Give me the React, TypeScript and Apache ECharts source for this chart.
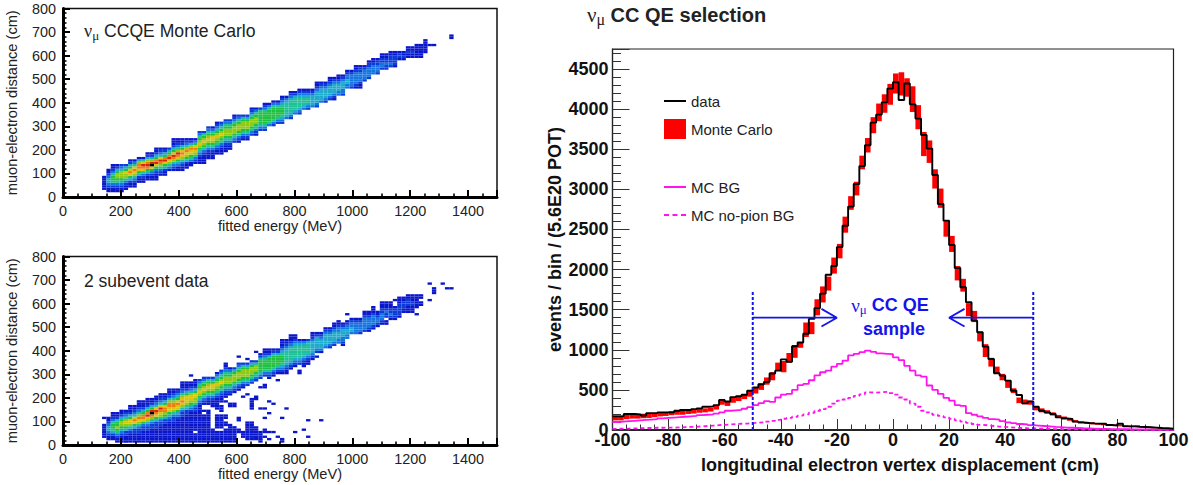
import React, { useEffect, useRef } from "react";
import * as echarts from "echarts";

// ---- Left panels: bins are 15 MeV x 10 cm. A run is [energy bin, first distance bin, colour levels upward].
const ENERGY_BIN = 15;
const DISTANCE_BIN = 10;
const levelColors = ["", "#0a16ca", "#0c3cd8", "#1474e0", "#1eaacc", "#1ec098", "#20c040", "#90c814", "#dcc40c", "#ec7c10", "#d82410", "#000000"];

const monteCarloRuns: [number, number, string][] = [
  [9, 3, "111111"], [10, 2, "1123443211"], [11, 2, "112356653211"], [12, 2, "112356776421"],
  [13, 2, "112346777532"], [14, 3, "11235778642"], [15, 4, "112468986421"], [16, 4, "112357898531"],
  [17, 6, "11246899741"], [18, 6, "1123589a851"], [19, 7, "112469a97421"], [20, 7, "112368ba7421"],
  [21, 7, "1112368a964211"], [22, 9, "123579a85321"], [23, 9, "112468a96421"], [24, 11, "13578a9642"],
  [25, 11, "123579a8642111"], [26, 11, "1134689a753211"], [27, 11, "11235789864211"], [28, 12, "1124678975321"],
  [29, 13, "113568897421"], [30, 14, "12357898631"], [31, 14, "11123567876532"], [32, 14, "11112356787652"],
  [33, 16, "11123567876532"], [34, 16, "11123567886531"], [35, 18, "11235678765321"], [36, 18, "11123567876532"],
  [37, 19, "11123567776532"], [38, 20, "1123567776532"], [39, 23, "235677765321"], [40, 23, "123567776532"],
  [41, 24, "12356777652"], [42, 24, "12356777642"], [43, 26, "235677765321"], [44, 26, "123567776531"],
  [45, 28, "2356666652"], [46, 28, "235666665321"], [47, 30, "3566666531"], [48, 30, "23566666531"],
  [49, 31, "2356666531"], [50, 31, "234566654321"], [51, 33, "3455555431"], [52, 33, "234555554321"],
  [53, 35, "3455555421"], [54, 35, "23455554321"], [55, 37, "345554321"], [56, 37, "234554321"],
  [57, 38, "34444321"], [58, 38, "23444443211"], [59, 40, "344444321"], [60, 40, "234444321"],
  [61, 41, "2344443211"], [62, 41, "1234444321"], [63, 43, "334443211"], [64, 43, "233444321"],
  [65, 46, "33443321"], [66, 46, "23333321"], [67, 46, "1233333211"], [68, 46, "1123333221"],
  [69, 49, "2333321"], [70, 50, "23333221"], [71, 52, "3333211"], [72, 52, "2333221"],
  [73, 54, "2332211"], [74, 54, "2232211"], [75, 55, "2322211"], [76, 55, "1222211"],
  [77, 58, "1221"], [78, 58, "1211"], [79, 59, "11211"], [80, 59, "11211"],
  [81, 59, "111111"], [82, 59, "111111"], [83, 61, "111111"], [84, 64, "1"], [85, 64, "1"], [89, 67, "11"],
];

const subeventRuns: [number, number, string][] = [
  [9, 3, "111111"], [9, 11, "1"], [10, 2, "1123443211"], [11, 2, "112456653211"], [12, 1, "1123567664211"],
  [13, 1, "11123467764211"], [14, 1, "11122467875321"], [15, 1, "1111235788642111"], [16, 1, "1111224689853211"],
  [17, 1, "111122357897532111"], [18, 1, "111112236899642111"], [19, 1, "11111223478a9642111"],
  [20, 1, "111111223579ba64211"], [21, 1, "1111112224689a853211"], [22, 1, "11111112235789a853211"],
  [23, 1, "111111112246799864211"], [24, 1, "11111111123468899742111"], [25, 1, "11111111122357899753211"],
  [26, 1, "11111111112346889864321"], [27, 1, "11111111111223578987532111"], [28, 1, "11111111111122457888642111"],
  [29, 1, "11111111111112346788753211"], [29, 29, "1"], [30, 1, "1111"], [30, 6, "1111111122357788642111"],
  [31, 1, "111111111111111123567876532"], [32, 1, "111111111111"], [32, 14, "1"], [32, 17, "123567876532"],
  [33, 1, "11111111111111"], [33, 17, "112356787652"], [34, 1, "111111"], [34, 16, "1112356788642"],
  [35, 1, "11111"], [35, 7, "111111"], [35, 15, "1111123567876531"], [36, 1, "11111"], [36, 7, "111111"],
  [36, 14, "111"], [36, 18, "11123567876532"], [37, 1, "111111"], [37, 8, "11"], [37, 11, "11"], [37, 18, "1"],
  [37, 20, "112356777653211"], [38, 1, "11111111"], [38, 16, "11"], [38, 21, "123567776531"], [39, 1, "1111111"],
  [39, 16, "11"], [39, 22, "12356777642"], [40, 5, "11"], [40, 10, "11"], [40, 23, "123567776532"], [40, 37, "1"],
  [41, 3, "111"], [41, 20, "1"], [41, 24, "12356777652"], [42, 2, "11111111"], [42, 21, "1"], [42, 25, "2356777642"],
  [42, 36, "1"], [43, 2, "11111111"], [43, 15, "11111"], [43, 26, "2356777642"], [44, 2, "111111"], [44, 19, "11"],
  [44, 27, "235677752"], [44, 39, "1"], [45, 1, "11111"], [45, 15, "1"], [45, 24, "1"], [45, 28, "23566666421"],
  [46, 3, "1"], [46, 5, "11"], [46, 11, "1"], [46, 15, "1"], [46, 24, "11"], [46, 29, "235666653211"],
  [47, 2, "1"], [47, 5, "1"], [47, 13, "1"], [47, 18, "1"], [47, 28, "1235666664211"], [48, 5, "1"], [48, 17, "1"],
  [48, 29, "123566666421"], [49, 3, "1"], [49, 27, "1"], [49, 30, "12356666421"], [50, 1, "11"], [50, 11, "1"],
  [50, 30, "123456665432111"], [51, 15, "1"], [51, 30, "112345555543211"], [52, 32, "123455555432111"],
  [53, 5, "1"], [53, 33, "12345555543211"], [54, 30, "11"], [54, 34, "23455555431"], [55, 6, "1"],
  [55, 33, "112345555431"], [56, 3, "1"], [56, 10, "1"], [56, 34, "11234555542"], [57, 36, "123444443211"],
  [58, 37, "1"], [58, 39, "234444421"], [59, 10, "1"], [59, 39, "134444321"], [60, 41, "344444321"],
  [61, 41, "234444321"], [62, 42, "2344443211"], [63, 43, "3344433211"], [64, 42, "1233444321"],
  [65, 45, "33443321"], [65, 55, "1"], [66, 47, "3443321"], [67, 47, "3333321"], [68, 47, "2333321"],
  [69, 48, "233333211"], [70, 48, "123333211"], [71, 49, "1233332111"], [72, 50, "1233211"],
  [73, 51, "1233322111"], [74, 51, "11"], [74, 54, "2232111"], [75, 53, "12322111"], [76, 53, "122221"],
  [76, 61, "1"], [77, 54, "122222111"], [78, 56, "1122211"], [79, 56, "11122211"], [80, 56, "11122111"],
  [81, 55, "1"], [81, 58, "111111"], [82, 59, "11"], [82, 62, "11"], [84, 61, "1"], [84, 68, "1"],
  [85, 64, "111"], [87, 68, "1"], [88, 66, "1"], [89, 66, "1"],
];

// ---- Right panel: one value per 2 cm bin, left edge -100 to 98.
const binLeftEdges = Array.from({ length: 100 }, (_, i) => -100 + i * 2);
const dataCounts = [
  170, 170, 200, 200, 195, 180, 210, 210, 220, 220,
  220, 240, 250, 250, 260, 270, 290, 295, 310, 375,
  355, 410, 420, 440, 490, 530, 570, 600, 705, 740,
  880, 850, 1045, 1090, 1200, 1385, 1520, 1700, 1935, 2045,
  2280, 2547, 2785, 3067, 3290, 3550, 3832, 3932, 4085, 4256,
  4335, 4115, 4320, 4060, 3882, 3678, 3508, 3180, 2818, 2610,
  2307, 2020, 1780, 1592, 1363, 1218, 1039, 885, 707, 678,
  615, 490, 436, 332, 357, 290, 240, 220, 200, 158,
  145, 137, 104, 95, 87, 83, 80, 78, 62, 55,
  78, 45, 45, 40, 38, 35, 30, 25, 22, 15,
];
const monteCarloCounts = [
  150, 150, 165, 170, 170, 175, 175, 185, 195, 200,
  210, 215, 215, 225, 230, 240, 245, 255, 280, 345,
  330, 370, 390, 415, 450, 490, 540, 610, 670, 790,
  790, 900, 980, 1060, 1250, 1270, 1530, 1690, 1825, 2050,
  2230, 2560, 2830, 3010, 3335, 3550, 3800, 3960, 4070, 4185,
  4320, 4315, 4270, 4125, 3900, 3565, 3470, 3130, 2890, 2510,
  2320, 1955, 1805, 1500, 1415, 1165, 990, 845, 750, 660,
  570, 490, 370, 350, 340, 270, 245, 225, 200, 170,
  150, 130, 110, 95, 88, 82, 75, 68, 60, 60,
  55, 50, 45, 48, 40, 35, 30, 22, 18, 12,
];
const monteCarloErrors = [
  30, 30, 30, 28, 28, 28, 25, 25, 25, 25,
  25, 25, 25, 25, 25, 25, 25, 25, 25, 30,
  30, 30, 30, 30, 35, 35, 40, 45, 50, 50,
  70, 60, 80, 35, 90, 75, 100, 100, 87, 100,
  90, 100, 85, 85, 85, 90, 100, 110, 115, 130,
  125, 145, 115, 160, 150, 150, 140, 120, 120, 100,
  100, 90, 80, 80, 70, 60, 80, 55, 40, 40,
  45, 30, 35, 30, 25, 25, 25, 22, 20, 18,
  18, 15, 14, 13, 12, 12, 10, 10, 10, 10,
  10, 10, 10, 10, 8, 8, 8, 6, 6, 6,
];
const backgroundCounts = [
  100, 105, 110, 115, 120, 125, 130, 135, 145, 150,
  155, 160, 165, 170, 175, 185, 190, 195, 205, 220,
  240, 245, 250, 265, 285, 310, 335, 360, 350, 405,
  440, 450, 500, 560, 575, 620, 680, 720, 740, 790,
  825, 865, 930, 950, 970, 990, 975, 955, 950, 945,
  905, 870, 800, 740, 680, 665, 555, 500, 450, 400,
  365, 310, 300, 210, 190, 170, 150, 135, 130, 110,
  95, 85, 75, 70, 60, 55, 50, 45, 38, 35,
  30, 28, 25, 22, 20, 18, 15, 14, 12, 11,
  10, 10, 8, 8, 7, 6, 6, 5, 4, 3,
];
const noPionCounts = [
  15, 18, 18, 20, 22, 25, 25, 28, 28, 30,
  30, 32, 35, 38, 40, 45, 50, 55, 60, 65,
  70, 75, 78, 80, 85, 90, 95, 105, 115, 125,
  140, 150, 165, 180, 195, 215, 240, 260, 290, 330,
  365, 380, 400, 425, 445, 470, 465, 470, 475, 460,
  440, 405, 380, 330, 290, 240, 220, 190, 175, 158,
  140, 120, 105, 90, 75, 65, 58, 50, 42, 38,
  32, 28, 25, 22, 20, 18, 16, 14, 12, 10,
  9, 8, 7, 6, 6, 5, 5, 4, 4, 3,
  3, 3, 2, 2, 2, 2, 1, 1, 1, 1,
];
const lowerCutLine = [[-50, 0], [-50, 1720]];
const upperCutLine = [[50, 0], [50, 1720]];
const lowerArrow = [[-50, 1400], [-20, 1400], [-25.5, 1510], [-20, 1400], [-25.5, 1290]];
const upperArrow = [[50, 1400], [20, 1400], [25.5, 1510], [20, 1400], [25.5, 1290]];
const frameAnchor = [[0, 0], [1500, 800]];

const SERIF = "'Liberation Serif'";
const SANS = "'Liberation Sans'";
const INK = "#111";
const BLUE = "#1414ee";
const MAGENTA = "#ff14ee";
const LINE_ICON = "path://M0 9H22V11H0Z";
const DASH_ICON = "path://M0 9H5V11H0Z M8.5 9H13.5V11H8.5Z M17 9H22V11H17Z";

function expandRuns(runs: [number, number, string][]) {
  const cells: number[][] = [];
  for (const [bin, start, levels] of runs) {
    levels.split("").forEach((c, i) => {
      const row = start + i;
      cells.push([bin * ENERGY_BIN, (bin + 1) * ENERGY_BIN, row * DISTANCE_BIN, (row + 1) * DISTANCE_BIN, parseInt(c, 16)]);
    });
  }
  return cells;
}
const renderCell = (_: any, api: any) => {
  const a = api.coord([api.value(0), api.value(3)]);
  const b = api.coord([api.value(1), api.value(2)]);
  return {
    type: "rect",
    shape: { x: a[0], y: a[1], width: b[0] - a[0], height: b[1] - a[1] },
    style: { fill: levelColors[api.value(4)] },
  };
};
const stepLine = (counts: number[]) => [
  ...binLeftEdges.map((x, i) => [x, counts[i]]),
  [100, counts[counts.length - 1]],
];
const plain = (v: number) => String(v);

function leftValueAxis(gridIndex: number, max: number, interval: number, name: string, gap: number, showMax: boolean) {
  return {
    type: "value", gridIndex, min: 0, max, interval,
    name, nameLocation: "middle", nameGap: gap,
    nameTextStyle: { fontFamily: SANS, fontSize: 14.6, color: "#222" },
    axisLine: { show: false, onZero: false },
    axisTick: { show: false },
    axisLabel: { fontFamily: SANS, fontSize: 14.4, color: "#222", margin: 7, showMinLabel: true, showMaxLabel: showMax, formatter: plain },
    splitLine: { show: false },
  };
}
function frameAxis(gridIndex: number, max: number, interval: number, split: number) {
  return {
    type: "value", gridIndex, min: 0, max, interval,
    axisLine: { show: true, onZero: false, lineStyle: { color: "#000", width: 3 } },
    axisTick: { show: true, inside: true, length: 7, lineStyle: { color: "#000", width: 2 } },
    minorTick: { show: true, splitNumber: split, length: 3.5, lineStyle: { color: "#000", width: 1.6 } },
    axisLabel: { show: false },
    splitLine: { show: false },
  };
}

const option: any = {
  animation: false,
  backgroundColor: "#fff",
  title: [
    {
      left: 84, top: 20, padding: 0,
      text: "{g|ν}{m|μ}{t| CCQE Monte Carlo}",
      textStyle: { rich: {
        g: { fontFamily: SERIF, fontSize: 18, fontWeight: "normal", color: "#222", lineHeight: 22 },
        m: { fontFamily: SERIF, fontSize: 13, fontWeight: "normal", color: "#222", lineHeight: 13, verticalAlign: "bottom" },
        t: { fontFamily: SANS, fontSize: 17.6, fontWeight: "normal", color: "#222", lineHeight: 22 },
      } },
    },
    { left: 84, top: 272, padding: 0, text: "2 subevent data", textStyle: { fontFamily: SANS, fontSize: 17.5, fontWeight: "normal", color: "#222" } },
    {
      left: 587, top: 3, padding: 0,
      text: "{g|ν}{m|μ}{t| CC QE selection}",
      textStyle: { rich: {
        g: { fontFamily: SERIF, fontSize: 21, fontWeight: "normal", color: "#222", lineHeight: 24 },
        m: { fontFamily: SERIF, fontSize: 16, fontWeight: "normal", color: "#222", lineHeight: 16, verticalAlign: "bottom" },
        t: { fontFamily: SANS, fontSize: 20, fontWeight: "bold", color: "#222", lineHeight: 24 },
      } },
    },
    {
      left: 890, top: 294, padding: 0, textAlign: "center",
      text: "{g|ν}{m|μ}{t| CC QE}",
      textStyle: { rich: {
        g: { fontFamily: SERIF, fontSize: 19, fontWeight: "normal", color: BLUE, lineHeight: 22 },
        m: { fontFamily: SERIF, fontSize: 13, fontWeight: "normal", color: BLUE, lineHeight: 13, verticalAlign: "bottom" },
        t: { fontFamily: SANS, fontSize: 18, fontWeight: "bold", color: BLUE, lineHeight: 22 },
      } },
    },
    { left: 894, top: 320, padding: 0, textAlign: "center", text: "sample", textStyle: { fontFamily: SANS, fontSize: 18, fontWeight: "bold", color: BLUE } },
  ],
  grid: [
    { left: 63, width: 434, top: 8.5, height: 188.5, show: true, borderColor: "#111", borderWidth: 1.5 },
    { left: 63, width: 434, top: 256.5, height: 188.5, show: true, borderColor: "#111", borderWidth: 1.5 },
    { left: 612.5, width: 561, top: 49, height: 381, show: true, borderColor: "#222", borderWidth: 1.2 },
    { left: 63, width: 434, top: 8.5, height: 188.5 },
    { left: 63, width: 434, top: 256.5, height: 188.5 },
  ],
  xAxis: [
    leftValueAxis(0, 1500, 200, "fitted energy (MeV)", 20, false),
    leftValueAxis(1, 1500, 200, "fitted energy (MeV)", 20, false),
    {
      type: "value", gridIndex: 2, min: -100, max: 100, interval: 20, z: 1,
      name: "longitudinal electron vertex displacement (cm)", nameLocation: "middle", nameGap: 26,
      nameTextStyle: { fontFamily: SANS, fontSize: 18, fontWeight: "bold", color: INK, padding: [0, 0, 0, 14] },
      axisLine: { show: true, onZero: false, lineStyle: { color: "#000", width: 1.6 } },
      axisTick: { show: true, inside: true, length: 11, lineStyle: { color: "#333", width: 1 } },
      minorTick: { show: true, splitNumber: 4, length: 5.5, lineStyle: { color: "#333", width: 1 } },
      axisLabel: { fontFamily: SANS, fontSize: 18, fontWeight: "bold", color: INK, margin: 1, showMinLabel: true, showMaxLabel: true, formatter: plain },
      splitLine: { show: false },
    },
    frameAxis(3, 1500, 200, 4),
    frameAxis(4, 1500, 200, 4),
  ],
  yAxis: [
    leftValueAxis(0, 800, 100, "muon-electron distance (cm)", 44, true),
    leftValueAxis(1, 800, 100, "muon-electron distance (cm)", 44, true),
    {
      type: "value", gridIndex: 2, min: 0, max: 4750, interval: 500, z: 1,
      name: "events / bin / (5.6E20 POT)", nameLocation: "middle", nameGap: 49,
      nameTextStyle: { fontFamily: SANS, fontSize: 18, fontWeight: "bold", color: INK },
      axisLine: { show: true, onZero: false, lineStyle: { color: "#222", width: 1.2 } },
      axisTick: { show: true, inside: true, length: 17, lineStyle: { color: "#333", width: 1 } },
      minorTick: { show: true, splitNumber: 5, length: 8.5, lineStyle: { color: "#333", width: 1 } },
      axisLabel: { fontFamily: SANS, fontSize: 18, fontWeight: "bold", color: INK, margin: 4, showMinLabel: true, showMaxLabel: false, formatter: plain },
      splitLine: { show: false },
    },
    frameAxis(3, 800, 100, 5),
    frameAxis(4, 800, 100, 5),
  ],
  legend: [
    {
      left: 664, top: 93.5, padding: 0, orient: "vertical", itemWidth: 22, itemHeight: 20, itemGap: 10.5,
      data: [{ name: "data", icon: LINE_ICON }, { name: "Monte Carlo", icon: "rect" }],
      textStyle: { fontFamily: SANS, fontSize: 15, color: "#222" },
      selectedMode: false,
    },
    {
      left: 664, top: 179.5, padding: 0, orient: "vertical", itemWidth: 22, itemHeight: 20, itemGap: 13,
      data: [{ name: "MC BG", icon: LINE_ICON }, { name: "MC no-pion BG", icon: DASH_ICON }],
      textStyle: { fontFamily: SANS, fontSize: 15, color: "#222" },
      selectedMode: false,
    },
  ],
  series: [
    {
      name: "CCQE Monte Carlo cells", type: "custom", xAxisIndex: 0, yAxisIndex: 0, z: -1,
      encode: { x: [0, 1], y: [2, 3] }, data: expandRuns(monteCarloRuns), renderItem: renderCell,
    },
    {
      name: "2 subevent data cells", type: "custom", xAxisIndex: 1, yAxisIndex: 1, z: -1,
      encode: { x: [0, 1], y: [2, 3] }, data: expandRuns(subeventRuns), renderItem: renderCell,
    },
    { name: "top frame", type: "line", xAxisIndex: 3, yAxisIndex: 3, symbol: "none", data: frameAnchor, lineStyle: { opacity: 0 } },
    { name: "bottom frame", type: "line", xAxisIndex: 4, yAxisIndex: 4, symbol: "none", data: frameAnchor, lineStyle: { opacity: 0 } },
    {
      name: "Monte Carlo", type: "custom", xAxisIndex: 2, yAxisIndex: 2, z: 2,
      itemStyle: { color: "#ff0000" },
      encode: { x: [0, 1], y: [2, 3] },
      data: binLeftEdges.map((x, i) => [x, x + 2, monteCarloCounts[i] - monteCarloErrors[i], monteCarloCounts[i] + monteCarloErrors[i]]),
      renderItem: (_: any, api: any) => {
        const a = api.coord([api.value(0), api.value(3)]);
        const b = api.coord([api.value(1), api.value(2)]);
        return { type: "rect", shape: { x: a[0], y: a[1], width: b[0] - a[0], height: b[1] - a[1] }, style: { fill: "#ff0000" } };
      },
    },
    {
      name: "MC BG", type: "line", step: "end", xAxisIndex: 2, yAxisIndex: 2, symbol: "none", z: 3,
      data: stepLine(backgroundCounts), itemStyle: { color: MAGENTA }, lineStyle: { color: MAGENTA, width: 1.8 },
    },
    {
      name: "MC no-pion BG", type: "line", step: "end", xAxisIndex: 2, yAxisIndex: 2, symbol: "none", z: 3,
      data: stepLine(noPionCounts), itemStyle: { color: MAGENTA }, lineStyle: { color: MAGENTA, width: 1.8, type: [4, 3] },
    },
    {
      name: "data", type: "line", step: "end", xAxisIndex: 2, yAxisIndex: 2, symbol: "none", z: 4,
      data: stepLine(dataCounts), itemStyle: { color: "#000" }, lineStyle: { color: "#000", width: 1.9 },
    },
    { name: "lower cut", type: "line", xAxisIndex: 2, yAxisIndex: 2, symbol: "none", z: 5, data: lowerCutLine, lineStyle: { color: BLUE, width: 2, type: [3, 2] } },
    { name: "upper cut", type: "line", xAxisIndex: 2, yAxisIndex: 2, symbol: "none", z: 5, data: upperCutLine, lineStyle: { color: BLUE, width: 2, type: [3, 2] } },
    { name: "lower arrow", type: "line", xAxisIndex: 2, yAxisIndex: 2, symbol: "none", z: 5, data: lowerArrow, lineStyle: { color: BLUE, width: 1.8 } },
    { name: "upper arrow", type: "line", xAxisIndex: 2, yAxisIndex: 2, symbol: "none", z: 5, data: upperArrow, lineStyle: { color: BLUE, width: 1.8 } },
  ],
};

export default function App() {
  const ref = useRef<HTMLDivElement>(null);
  useEffect(() => {
    document.body.style.margin = "0";
    const chart = echarts.init(ref.current!, undefined, { renderer: "svg" });
    chart.setOption(option);
    return () => chart.dispose();
  }, []);
  return <div ref={ref} style={{ width: 1193, height: 485 }} />;
}
